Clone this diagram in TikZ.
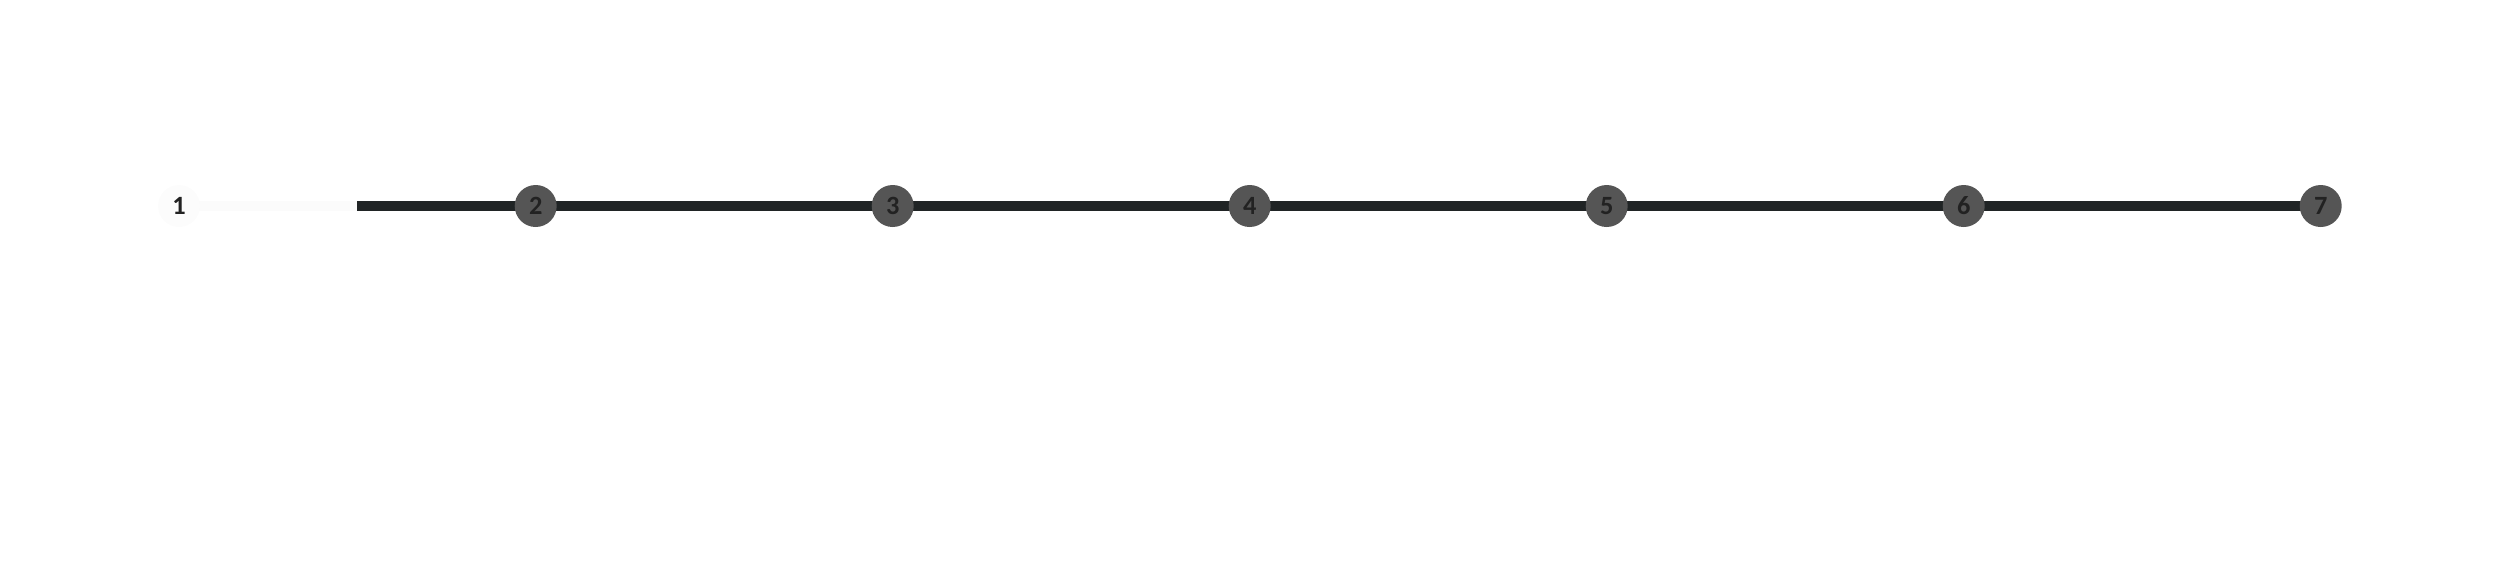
\documentclass[tikz,border=0pt]{standalone}
\usepackage{fontspec}
\setmainfont{Carlito}
\usetikzlibrary{backgrounds}
\begin{document}
\begin{tikzpicture}[
  stepnode/.style={circle, fill=nodegray, text=textdark, minimum size=4.2mm, inner sep=0pt, font=\fontsize{7.5}{7.5}\selectfont\bfseries},
  firstnode/.style={circle, fill=faint, text=textdark, minimum size=4.2mm, inner sep=0pt, font=\fontsize{7.5}{7.5}\selectfont\bfseries},
  bar/.style={draw=bardark, line width=1.05mm},
  faintbar/.style={draw=faintline, line width=1mm}
]
\definecolor{nodegray}{HTML}{555555}
\definecolor{textdark}{HTML}{222222}
\definecolor{bardark}{HTML}{202425}
\definecolor{faint}{HTML}{FCFCFC}
\definecolor{faintline}{HTML}{FBFBFB}
\useasboundingbox (0,0) rectangle (25,5.68);
\coordinate (s) at (3.57,3.62);
\node[firstnode] (n1) at (1.79,3.62) {1};
\foreach \i in {2,...,7} {
  \node[stepnode] (n\i) at ({5.357+3.57*(\i-2)},3.62) {\i};
}
\begin{pgfonlayer}{background}
\path[faintbar] (n1.center) -- (s);
\path[bar] (s) -- (n2.center);
\path[bar] (n2.center) -- (n3.center);
\path[bar] (n3.center) -- (n4.center);
\path[bar] (n4.center) -- (n5.center);
\path[bar] (n5.center) -- (n6.center);
\path[bar] (n6.center) -- (n7.center);
\end{pgfonlayer}
\end{tikzpicture}
\end{document}
